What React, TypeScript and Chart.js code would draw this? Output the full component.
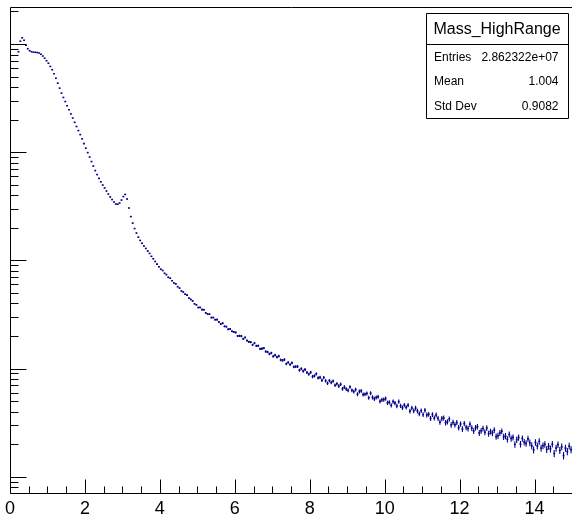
import { useEffect, useRef } from 'react';
import { Chart, registerables } from 'chart.js';

Chart.register(...registerables);

const FONT = '"Liberation Sans", Arial, Helvetica, sans-serif';
const MARKER_COLOR = '#000088';

// ---- histogram meta / text ----
const histTitle = 'Mass_HighRange';
const statLabels = ['Entries', 'Mean', 'Std Dev'];
const statValues = ['2.862322e+07', '1.004', '0.9082'];

// ---- axes ----
const xRange = [0, 15];
const xTickLabels = [0, 2, 4, 6, 8, 10, 12, 14];
const xMinorStep = 0.5;
const yRange = [70.7, 2.2e6];
const yDecades = [1e1, 1e2, 1e3, 1e4, 1e5, 1e6];

// ---- binning (first filled bin starts at 0.2, width 0.05) ----
const binLowEdge = 0.2;
const binWidth = 0.05;

// bin contents
const countsLowMass = [
  849000, 1062000, 1143000, 1084000, 975000, 905000, 867000, 849000, 840000, 839000,
  835000, 826000, 805000, 775000, 739000, 701000, 665000, 621000, 579000, 532000,
  483000, 435000, 391000, 352000, 321000, 294000, 269000, 247000, 226000, 207000,
  189000, 173000, 158500, 145500, 133000, 120000,
];
const countsJpsiRegion = [
  109000, 99100, 90200, 81900, 74500, 67600, 62100, 57300, 53200, 49700,
  46700, 43800, 41000, 38600, 36500, 34600, 33200, 33000, 33900, 36100,
  38900, 40700, 36900, 30500, 25400, 22100, 19700, 17900, 16400, 15300,
  14400, 13600, 12900, 12200, 11600, 10900, 10350, 9770, 9230, 8730,
];
const countsMidMass = [
  8280, 8063, 7589, 7390, 6970, 6844, 6483, 6180, 6057, 5712,
  5544, 5219, 5103, 4865, 4768, 4479, 4352, 4220, 3972, 3884,
  3666, 3674, 3506, 3499, 3268, 3193, 3179, 2957, 2964, 2828,
  2831, 2695, 2583, 2622, 2455, 2439, 2304, 2323, 2213, 2178,
  2157, 2002, 2006, 1994, 1879, 1939, 1816, 1762, 1751, 1654,
  1716, 1620, 1624, 1520, 1527, 1546, 1435, 1420, 1364, 1393,
  1296, 1332, 1274, 1302, 1201, 1188, 1211, 1106, 1139, 1089,
  1128, 1036, 1043, 1045, 966, 997, 947, 978, 921, 887,
];
const countsHighMass = [
  922, 842, 856, 892, 819, 828, 780, 826, 771, 730,
  774, 742, 766, 700, 723, 688, 715, 650, 674, 646,
  628, 676, 630, 612, 640, 579, 614, 622, 576, 578,
  589, 537, 591, 542, 525, 541, 549, 498, 514, 517,
  528, 482, 488, 457, 496, 479, 451, 494, 452, 434,
  460, 438, 459, 404, 432, 407, 431, 405, 382, 408,
  375, 411, 372, 378, 346, 376, 349, 372, 346, 320,
  345, 349, 316, 322, 342, 301, 318, 302, 317, 284,
];
const countsTail = [
  307, 276, 310, 286, 279, 306, 282, 265, 284, 290,
  254, 266, 279, 258, 282, 250, 262, 253, 270, 235,
  239, 254, 263, 234, 238, 222, 246, 226, 231, 199,
  220, 230, 200, 226, 209, 203, 224, 206, 193, 177,
  208, 192, 212, 184, 193, 199, 179, 191, 181, 200,
  164, 184, 198, 175, 189, 157, 184, 171, 192, 178,
];

const counts = [
  ...countsLowMass,
  ...countsJpsiRegion,
  ...countsMidMass,
  ...countsHighMass,
  ...countsTail,
];
const points = counts.map((n, i) => ({ x: binLowEdge + binWidth * (i + 0.5), y: n }));

const rootStylePlugin = {
  id: 'rootStyle',
  afterDatasetsDraw(chart: any) {
    const { ctx, chartArea: a } = chart;
    const xs = chart.scales.x;
    const ys = chart.scales.y;
    ctx.save();
    ctx.beginPath();
    ctx.rect(a.left, a.top, a.right - a.left, a.bottom - a.top);
    ctx.clip();
    ctx.strokeStyle = MARKER_COLOR;
    ctx.lineWidth = 1.1;
    ctx.beginPath();
    for (const p of points) {
      const err = Math.sqrt(p.y);
      const px = xs.getPixelForValue(p.x);
      ctx.moveTo(px, ys.getPixelForValue(p.y + err));
      ctx.lineTo(px, ys.getPixelForValue(Math.max(p.y - err, 1)));
    }
    ctx.stroke();
    ctx.restore();
  },
  afterDraw(chart: any) {
    const { ctx, chartArea: a } = chart;
    const xs = chart.scales.x;
    const ys = chart.scales.y;
    ctx.save();
    ctx.strokeStyle = '#000';
    ctx.lineWidth = 1;

    // frame
    ctx.beginPath();
    ctx.moveTo(a.left + 0.5, a.bottom + 0.5);
    ctx.lineTo(a.left + 0.5, a.top + 0.5);
    ctx.lineTo(a.right + 0.5, a.top + 0.5);
    ctx.lineTo(a.right + 0.5, a.bottom + 0.5);
    ctx.closePath();
    ctx.stroke();

    // x ticks (inside the frame)
    const xMajorLen = 14;
    const xMinorLen = 7;
    ctx.beginPath();
    for (let v = xRange[0]; v <= xRange[1] + 1e-9; v += xMinorStep) {
      const px = Math.round(xs.getPixelForValue(v)) + 0.5;
      const isMajor = xTickLabels.some((t) => Math.abs(t - v) < 1e-9);
      ctx.moveTo(px, a.bottom + 0.5);
      ctx.lineTo(px, a.bottom + 0.5 - (isMajor ? xMajorLen : xMinorLen));
    }
    ctx.stroke();

    // y ticks (log)
    const yMajorLen = 16;
    const yMinorLen = 8;
    ctx.beginPath();
    for (const d of yDecades) {
      for (let m = 1; m <= 9; m++) {
        const v = m * d;
        if (v < yRange[0] || v > yRange[1]) continue;
        const py = Math.round(ys.getPixelForValue(v)) + 0.5;
        ctx.moveTo(a.left + 0.5, py);
        ctx.lineTo(a.left + 0.5 + (m === 1 ? yMajorLen : yMinorLen), py);
      }
    }
    ctx.stroke();

    // x tick labels
    ctx.fillStyle = '#000';
    ctx.font = `18px ${FONT}`;
    ctx.textAlign = 'center';
    ctx.textBaseline = 'alphabetic';
    for (const t of xTickLabels) {
      ctx.fillText(String(t), xs.getPixelForValue(t), 514);
    }

    // stats box
    const bx = 426;
    const by = 13;
    const bw = 142;
    const bh = 105;
    const titleH = 31;
    ctx.fillStyle = '#fff';
    ctx.fillRect(bx, by, bw, bh);
    ctx.beginPath();
    ctx.rect(bx + 0.5, by + 0.5, bw, bh);
    ctx.moveTo(bx + 0.5, by + titleH + 0.5);
    ctx.lineTo(bx + bw + 0.5, by + titleH + 0.5);
    ctx.stroke();

    ctx.fillStyle = '#000';
    ctx.font = `16px ${FONT}`;
    ctx.textAlign = 'center';
    ctx.fillText(histTitle, bx + bw / 2, by + 21);

    ctx.font = `12px ${FONT}`;
    const rowH = (bh - titleH) / statLabels.length;
    statLabels.forEach((lab, i) => {
      const base = by + titleH + rowH * (i + 0.5) + 4.3;
      ctx.textAlign = 'left';
      ctx.fillText(lab, bx + 8, base);
      ctx.textAlign = 'right';
      ctx.fillText(statValues[i], bx + bw - 9.5, base);
    });
    ctx.restore();
  },
};

export default function App() {
  const ref = useRef<HTMLCanvasElement>(null);
  useEffect(() => {
    const canvas = ref.current;
    if (!canvas) return;
    const chart = new Chart(canvas, {
      type: 'scatter',
      data: {
        datasets: [
          {
            label: histTitle,
            data: points,
            pointStyle: 'line',
            pointRadius: (c: any) => {
              const s = c.chart.scales.x;
              return Math.abs(s.getPixelForValue(binWidth) - s.getPixelForValue(0)) / 2;
            },
            pointHoverRadius: 0,
            pointBorderWidth: 1.6,
            borderColor: MARKER_COLOR,
            pointBorderColor: MARKER_COLOR,
            backgroundColor: MARKER_COLOR,
            showLine: false,
          } as any,
        ],
      },
      options: {
        animation: false,
        responsive: false,
        devicePixelRatio: 1,
        events: [],
        layout: { padding: { left: 10, top: 7, right: 0, bottom: 23 } },
        scales: {
          x: { type: 'linear', min: xRange[0], max: xRange[1], display: false },
          y: { type: 'logarithmic', min: yRange[0], max: yRange[1], display: false },
        },
        plugins: {
          legend: { display: false },
          tooltip: { enabled: false },
          title: { display: false },
        },
      },
      plugins: [rootStylePlugin],
    });
    return () => chart.destroy();
  }, []);
  return (
    <div style={{ position: 'fixed', left: 0, top: 0, width: 572, height: 516, background: '#fff' }}>
      <canvas ref={ref} width={572} height={516} style={{ display: 'block', width: 572, height: 516 }} />
    </div>
  );
}
